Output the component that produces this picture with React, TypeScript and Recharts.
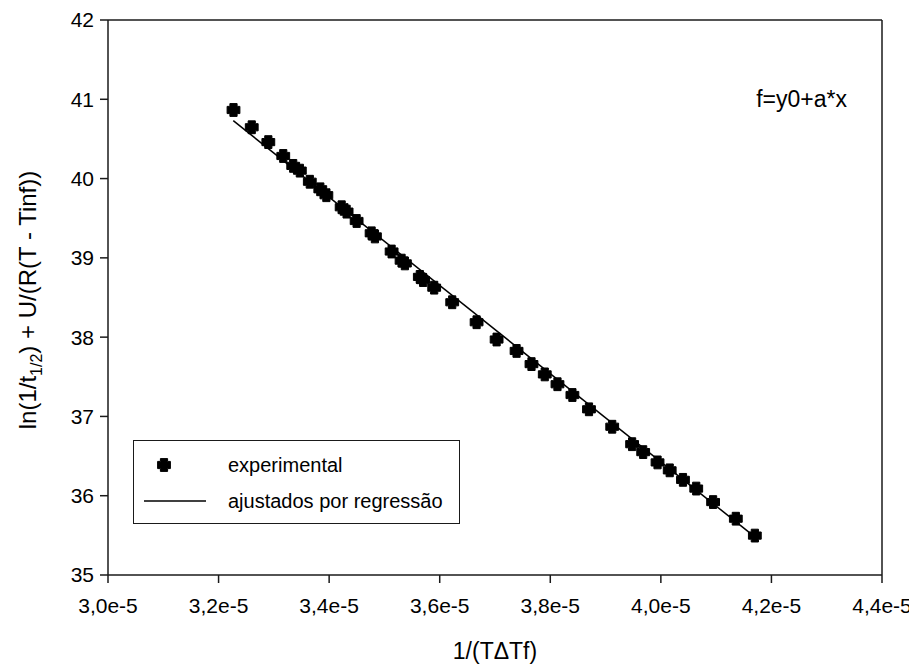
import React from 'react';
import { ComposedChart, Scatter, Line, XAxis, YAxis, ReferenceLine, Label } from 'recharts';

const xValues = [
  3.227e-5, 3.26e-5, 3.29e-5, 3.317e-5, 3.335e-5, 3.347e-5, 3.365e-5, 3.384e-5, 3.395e-5,
  3.4226e-5, 3.4316e-5, 3.4497e-5, 3.4768e-5, 3.4828e-5, 3.513e-5, 3.531e-5, 3.537e-5,
  3.564e-5, 3.57e-5, 3.59e-5, 3.6226e-5, 3.6667e-5, 3.7029e-5, 3.739e-5, 3.766e-5,
  3.79e-5, 3.813e-5, 3.84e-5, 3.87e-5, 3.912e-5, 3.948e-5, 3.968e-5, 3.994e-5,
  4.016e-5, 4.04e-5, 4.064e-5, 4.0945e-5, 4.1356e-5, 4.17e-5,
];
const yValues = [
  40.865, 40.647, 40.46, 40.285, 40.16, 40.1, 39.96, 39.865, 39.79,
  39.638, 39.583, 39.465, 39.31, 39.27, 39.08, 38.965, 38.93,
  38.76, 38.72, 38.624, 38.44, 38.188, 37.97, 37.826, 37.66,
  37.53, 37.406, 37.27, 37.09, 36.87, 36.65, 36.55, 36.42,
  36.32, 36.2, 36.09, 35.92, 35.71, 35.497,
];
const fitX = [3.2266e-5, 4.17e-5];
const fitY = [40.73, 35.48];

const xTicks = [3.0e-5, 3.2e-5, 3.4e-5, 3.6e-5, 3.8e-5, 4.0e-5, 4.2e-5, 4.4e-5];
const xTickLabels = ['3,0e-5', '3,2e-5', '3,4e-5', '3,6e-5', '3,8e-5', '4,0e-5', '4,2e-5', '4,4e-5'];
const yTicks = [35, 36, 37, 38, 39, 40, 41, 42];

const legendLabels = ['experimental', 'ajustados por regressão'];

const expData = xValues.map((x, i) => ({ x, y: yValues[i] }));
const fitData = fitX.map((x, i) => ({ x, y: fitY[i] }));

const FONT = '"Liberation Sans", Arial, sans-serif';
const AXIS = '#1a1a1a';

const plusPath = (cx: number, cy: number) => {
  const a = 3.6;
  const b = 6.4;
  return `M${cx - a},${cy - b} L${cx + a},${cy - b} L${cx + a},${cy - a} L${cx + b},${cy - a} L${cx + b},${cy + a} L${cx + a},${cy + a} L${cx + a},${cy + b} L${cx - a},${cy + b} L${cx - a},${cy + a} L${cx - b},${cy + a} L${cx - b},${cy - a} L${cx - a},${cy - a} Z`;
};

const PlusMarker = (props: any) => {
  const { cx, cy } = props;
  if (cx == null || cy == null) return null;
  return <path d={plusPath(cx, cy)} fill="#000" stroke="#000" strokeWidth={1} strokeLinejoin="round" />;
};

const LegendBox = () => (
  <div
    style={{
      position: 'absolute',
      left: 125,
      top: 432,
      width: 325,
      height: 82,
      border: '1.5px solid #1a1a1a',
      background: '#fff',
      fontFamily: FONT,
      fontSize: 20,
      color: '#000',
    }}
  >
    <svg width={90} height={82} style={{ position: 'absolute', left: 0, top: 0 }}>
      <path d={plusPath(30, 24)} fill="#000" stroke="#000" strokeWidth={1} strokeLinejoin="round" />
      <line x1={10} x2={72} y1={60} y2={60} stroke="#000" strokeWidth={1.5} />
    </svg>
    <div style={{ position: 'absolute', left: 94, top: 12, lineHeight: '24px', whiteSpace: 'nowrap' }}>{legendLabels[0]}</div>
    <div style={{ position: 'absolute', left: 94, top: 48, lineHeight: '24px', whiteSpace: 'nowrap' }}>{legendLabels[1]}</div>
  </div>
);

const YTitle = () => (
  <text
    x={28}
    y={292}
    transform="rotate(-90 28 292)"
    textAnchor="middle"
    fontFamily={FONT}
    fontSize={24}
    fill="#000"
  >
    ln(1/t<tspan fontSize={16} dy={6}>1/2</tspan>
    <tspan dy={-6}>) + U/(R(T - Tinf))</tspan>
  </text>
);

const XTitle = () => (
  <g>
    <text x={487} y={651} textAnchor="middle" fontFamily={FONT} fontSize={23} fill="#000">
      1/(TΔTf)
    </text>
    <text x={839} y={99} textAnchor="end" fontFamily={FONT} fontSize={23} fill="#000">
      f=y0+a*x
    </text>
  </g>
);

export default function App() {
  return (
    <div style={{ width: 909, height: 660, position: 'relative', background: '#fff' }}>
      <ComposedChart
        width={909}
        height={660}
        margin={{ top: 12, right: 35, left: 0, bottom: 0 }}
        style={{ background: '#fff' }}
      >
        <XAxis
          dataKey="x"
          type="number"
          domain={[3.0e-5, 4.4e-5]}
          ticks={xTicks}
          tickFormatter={(v: number) => {
            const i = xTicks.findIndex((t) => Math.abs(t - v) < 1e-9);
            return i >= 0 ? xTickLabels[i] : '';
          }}
          height={93}
          allowDataOverflow
          stroke={AXIS}
          strokeWidth={1.5}
          tickSize={8}
          tickMargin={15}
          tick={{ fill: '#000', fontSize: 21, fontFamily: FONT }}
          interval={0}
        >
          <Label content={() => <XTitle />} />
        </XAxis>
        <YAxis
          dataKey="y"
          type="number"
          domain={[35, 42]}
          ticks={yTicks}
          width={100}
          allowDataOverflow
          stroke={AXIS}
          strokeWidth={1.5}
          tickSize={8}
          tickMargin={6}
          tick={{ fill: '#000', fontSize: 21, fontFamily: FONT }}
          interval={0}
        >
          <Label content={() => <YTitle />} />
        </YAxis>
        <ReferenceLine y={42} stroke={AXIS} strokeWidth={1.5} ifOverflow="visible" />
        <ReferenceLine x={4.4e-5} stroke={AXIS} strokeWidth={1.5} ifOverflow="visible" />
        <Line
          data={fitData}
          dataKey="y"
          type="linear"
          stroke="#000"
          strokeWidth={1.5}
          dot={false}
          activeDot={false}
          isAnimationActive={false}
          legendType="none"
        />
        <Scatter data={expData} dataKey="y" shape={<PlusMarker />} isAnimationActive={false} legendType="none" />
      </ComposedChart>
      <LegendBox />
    </div>
  );
}
